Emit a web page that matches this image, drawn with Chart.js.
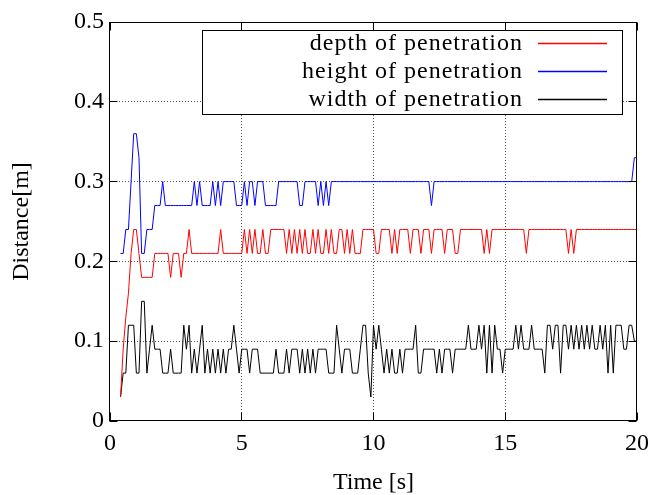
<!DOCTYPE html>
<html>
<head>
<meta charset="utf-8">
<script src="https://cdn.jsdelivr.net/npm/chart.js@4/dist/chart.umd.min.js"></script>
<style>
html,body{margin:0;padding:0;background:#fff;}
canvas{display:block;}
</style>
</head>
<body>
<canvas id="c" width="653" height="495"></canvas>
<script>
// Time samples [s]
const times = [
  0.4,0.5,0.6,0.7,0.8,0.9,
  1.0,1.1,1.2,1.3,1.4,1.5,1.6,1.7,1.8,1.9,
  2.0,2.1,2.2,2.3,2.4,2.5,2.6,2.7,2.8,2.9,
  3.0,3.1,3.2,3.3,3.4,3.5,3.6,3.7,3.8,3.9,
  4.0,4.1,4.2,4.3,4.4,4.5,4.6,4.7,4.8,4.9,
  5.0,5.1,5.2,5.3,5.4,5.5,5.6,5.7,5.8,5.9,
  6.0,6.1,6.2,6.3,6.4,6.5,6.6,6.7,6.8,6.9,
  7.0,7.1,7.2,7.3,7.4,7.5,7.6,7.7,7.8,7.9,
  8.0,8.1,8.2,8.3,8.4,8.5,8.6,8.7,8.8,8.9,
  9.0,9.1,9.2,9.3,9.4,9.5,9.6,9.7,9.8,9.9,
  10.0,10.1,10.2,10.3,10.4,10.5,10.6,10.7,10.8,10.9,
  11.0,11.1,11.2,11.3,11.4,11.5,11.6,11.7,11.8,11.9,
  12.0,12.1,12.2,12.3,12.4,12.5,12.6,12.7,12.8,12.9,
  13.0,13.1,13.2,13.3,13.4,13.5,13.6,13.7,13.8,13.9,
  14.0,14.1,14.2,14.3,14.4,14.5,14.6,14.7,14.8,14.9,
  15.0,15.1,15.2,15.3,15.4,15.5,15.6,15.7,15.8,15.9,
  16.0,16.1,16.2,16.3,16.4,16.5,16.6,16.7,16.8,16.9,
  17.0,17.1,17.2,17.3,17.4,17.5,17.6,17.7,17.8,17.9,
  18.0,18.1,18.2,18.3,18.4,18.5,18.6,18.7,18.8,18.9,
  19.0,19.1,19.2,19.3,19.4,19.5,19.6,19.7,19.8,19.9,
  20.0
];

// depth of penetration [m]
const depth = [
  0.03,0.09,0.13,0.16,0.21,0.24,
  0.24,0.21,0.18,0.18,0.18,0.18,0.18,0.21,0.21,0.21,
  0.21,0.21,0.21,0.18,0.21,0.21,0.21,0.18,0.21,0.21,
  0.24,0.21,0.21,0.21,0.21,0.21,0.21,0.21,0.21,0.21,
  0.21,0.21,0.24,0.21,0.21,0.21,0.21,0.21,0.21,0.21,
  0.21,0.24,0.21,0.24,0.21,0.24,0.21,0.21,0.24,0.21,
  0.21,0.24,0.24,0.24,0.24,0.24,0.24,0.21,0.24,0.21,
  0.24,0.21,0.24,0.21,0.24,0.21,0.21,0.24,0.21,0.24,
  0.21,0.21,0.24,0.21,0.24,0.21,0.21,0.24,0.24,0.21,
  0.24,0.21,0.24,0.21,0.21,0.21,0.24,0.24,0.24,0.24,
  0.24,0.21,0.21,0.24,0.24,0.24,0.24,0.21,0.24,0.21,
  0.24,0.24,0.24,0.24,0.21,0.24,0.24,0.24,0.21,0.24,
  0.24,0.24,0.21,0.24,0.24,0.24,0.24,0.21,0.24,0.24,
  0.24,0.21,0.21,0.24,0.24,0.24,0.24,0.24,0.24,0.24,
  0.24,0.24,0.21,0.24,0.21,0.24,0.24,0.24,0.24,0.24,
  0.24,0.24,0.24,0.24,0.24,0.24,0.24,0.24,0.21,0.24,
  0.24,0.24,0.24,0.24,0.24,0.24,0.24,0.24,0.24,0.24,
  0.24,0.24,0.24,0.24,0.21,0.24,0.21,0.24,0.24,0.24,
  0.24,0.24,0.24,0.24,0.24,0.24,0.24,0.24,0.24,0.24,
  0.24,0.24,0.24,0.24,0.24,0.24,0.24,0.24,0.24,0.24,
  0.24
];

// height of penetration [m]
const height = [
  0.21,0.21,0.24,0.24,0.30,0.36,
  0.36,0.33,0.21,0.21,0.24,0.24,0.24,0.27,0.27,0.27,
  0.30,0.27,0.27,0.27,0.27,0.27,0.27,0.27,0.27,0.27,
  0.27,0.27,0.30,0.27,0.30,0.27,0.27,0.27,0.27,0.30,
  0.27,0.30,0.27,0.30,0.30,0.30,0.30,0.30,0.27,0.27,
  0.27,0.30,0.27,0.30,0.30,0.27,0.30,0.30,0.30,0.27,
  0.27,0.27,0.27,0.27,0.30,0.30,0.30,0.30,0.30,0.30,
  0.30,0.30,0.27,0.27,0.30,0.30,0.30,0.30,0.30,0.27,
  0.30,0.27,0.30,0.27,0.30,0.30,0.30,0.30,0.30,0.30,
  0.30,0.30,0.30,0.30,0.30,0.30,0.30,0.30,0.30,0.30,
  0.30,0.30,0.30,0.30,0.30,0.30,0.30,0.30,0.30,0.30,
  0.30,0.30,0.30,0.30,0.30,0.30,0.30,0.30,0.30,0.30,
  0.30,0.30,0.27,0.30,0.30,0.30,0.30,0.30,0.30,0.30,
  0.30,0.30,0.30,0.30,0.30,0.30,0.30,0.30,0.30,0.30,
  0.30,0.30,0.30,0.30,0.30,0.30,0.30,0.30,0.30,0.30,
  0.30,0.30,0.30,0.30,0.30,0.30,0.30,0.30,0.30,0.30,
  0.30,0.30,0.30,0.30,0.30,0.30,0.30,0.30,0.30,0.30,
  0.30,0.30,0.30,0.30,0.30,0.30,0.30,0.30,0.30,0.30,
  0.30,0.30,0.30,0.30,0.30,0.30,0.30,0.30,0.30,0.30,
  0.30,0.30,0.30,0.30,0.30,0.30,0.30,0.30,0.30,0.33,
  0.33
];

// width of penetration [m]
const width = [
  0.03,0.06,0.06,0.12,0.12,0.12,
  0.06,0.06,0.15,0.15,0.06,0.09,0.12,0.09,0.09,0.09,
  0.06,0.06,0.06,0.09,0.06,0.06,0.06,0.06,0.12,0.09,
  0.12,0.06,0.09,0.06,0.09,0.12,0.06,0.09,0.06,0.09,
  0.06,0.09,0.06,0.09,0.06,0.09,0.09,0.12,0.09,0.06,
  0.09,0.09,0.09,0.06,0.09,0.09,0.09,0.06,0.06,0.06,
  0.06,0.06,0.06,0.09,0.06,0.06,0.06,0.09,0.06,0.09,
  0.09,0.09,0.06,0.09,0.06,0.09,0.06,0.09,0.06,0.09,
  0.09,0.09,0.09,0.06,0.06,0.06,0.12,0.09,0.06,0.09,
  0.09,0.09,0.06,0.06,0.06,0.09,0.12,0.12,0.06,0.03,
  0.12,0.09,0.12,0.09,0.06,0.09,0.06,0.09,0.06,0.06,
  0.09,0.06,0.09,0.09,0.09,0.09,0.12,0.06,0.06,0.09,
  0.09,0.09,0.09,0.09,0.06,0.09,0.06,0.09,0.09,0.09,
  0.06,0.09,0.09,0.09,0.09,0.09,0.12,0.09,0.09,0.09,
  0.12,0.09,0.12,0.06,0.12,0.06,0.12,0.09,0.09,0.06,
  0.09,0.09,0.09,0.09,0.12,0.09,0.12,0.09,0.09,0.09,
  0.12,0.09,0.09,0.09,0.09,0.06,0.12,0.12,0.09,0.12,
  0.12,0.06,0.12,0.12,0.09,0.12,0.09,0.12,0.09,0.12,
  0.09,0.12,0.09,0.12,0.09,0.09,0.12,0.09,0.12,0.06,
  0.12,0.06,0.12,0.12,0.12,0.09,0.09,0.12,0.12,0.10,
  0.10
];

const seriesLabels = ['depth of penetration', 'height of penetration', 'width of penetration'];
const seriesColors = ['#ff0000', '#0000ff', '#000000'];
const xTicks = [0, 5, 10, 15, 20];
const yTicks = [0, 0.1, 0.2, 0.3, 0.4, 0.5];

const FONT = '"Liberation Serif", "Times New Roman", serif';
const CLEAR = 'rgba(0,0,0,0)';

function pts(vals) { return vals.map((v, i) => ({ x: times[i], y: v })); }

const gnuplotFrame = {
  id: 'gnuplotFrame',
  beforeDatasetsDraw(chart) {
    const { ctx, chartArea: a, scales: { x, y } } = chart;
    ctx.save();
    ctx.strokeStyle = '#555';
    ctx.lineWidth = 1;
    ctx.setLineDash([1, 2]);
    x.ticks.forEach(t => {
      if (t.value <= x.min || t.value >= x.max) return;
      const px = Math.floor(x.getPixelForValue(t.value)) + 0.5;
      ctx.beginPath(); ctx.moveTo(px, a.top); ctx.lineTo(px, a.bottom); ctx.stroke();
    });
    y.ticks.forEach(t => {
      if (t.value <= y.min + 1e-9 || t.value >= y.max - 1e-9) return;
      const py = Math.floor(y.getPixelForValue(t.value)) + 0.5;
      ctx.beginPath(); ctx.moveTo(a.left, py); ctx.lineTo(a.right, py); ctx.stroke();
    });
    ctx.restore();
  },
  afterDatasetsDraw(chart) {
    const { ctx, chartArea: a, scales: { x, y } } = chart;
    ctx.save();
    ctx.setLineDash([]);
    ctx.lineWidth = 1;
    // legend box
    const bx0 = Math.floor(a.left) + 92, bx1 = Math.round(a.right) - 15;
    const by0 = Math.floor(a.top) + 8, by1 = Math.floor(a.top) + 92;
    ctx.fillStyle = '#ffffff';
    ctx.fillRect(bx0, by0, bx1 - bx0, by1 - by0);
    ctx.fillStyle = '#000000';
    ctx.fillRect(bx0, by0, bx1 - bx0, 1);
    ctx.fillRect(bx0, by1, bx1 - bx0 + 1, 1);
    ctx.fillRect(bx0, by0, 1, by1 - by0);
    ctx.fillRect(bx1, by0, 1, by1 - by0);
    ctx.font = '24px ' + FONT;
    ctx.textAlign = 'right';
    ctx.textBaseline = 'alphabetic';
    seriesLabels.forEach((lab, i) => {
      const ly = Math.floor(a.top) + 21 + i * 28;
      ctx.save();
      try { ctx.letterSpacing = '1px'; } catch (e) {}
      ctx.fillStyle = '#000000';
      ctx.fillText(lab, bx1 - 99, ly + 7);
      ctx.restore();
      ctx.save();
      ctx.strokeStyle = seriesColors[i];
      ctx.lineWidth = 1.6;
      ctx.beginPath();
      ctx.moveTo(bx1 - 84, ly + 0.5);
      ctx.lineTo(bx1 - 15, ly + 0.5);
      ctx.stroke();
      ctx.restore();
    });
    // frame
    ctx.strokeStyle = '#000000';
    ctx.lineWidth = 1;
    const L = Math.floor(a.left) - 0.5, R = Math.round(a.right) - 0.5;
    const T = Math.floor(a.top) + 0.5, B = Math.round(a.bottom) - 0.5;
    ctx.strokeRect(L, T, R - L, B - T);
    // inward ticks
    const tl = 8;
    x.ticks.forEach(t => {
      const px = Math.floor(x.getPixelForValue(t.value)) + 0.5;
      ctx.beginPath();
      ctx.moveTo(px, B); ctx.lineTo(px, B - tl);
      ctx.moveTo(px, T); ctx.lineTo(px, T + tl);
      ctx.stroke();
    });
    y.ticks.forEach(t => {
      const py = Math.floor(y.getPixelForValue(t.value)) + 0.5;
      ctx.beginPath();
      ctx.moveTo(L, py); ctx.lineTo(L + tl, py);
      ctx.moveTo(R, py); ctx.lineTo(R - tl, py);
      ctx.stroke();
    });
    // axis titles
    ctx.fillStyle = '#000000';
    ctx.font = '24px ' + FONT;
    ctx.textAlign = 'center';
    ctx.textBaseline = 'middle';
    ctx.fillText('Time [s]', (a.left + a.right) / 2, 483);
    ctx.save();
    ctx.translate(22, (a.top + a.bottom) / 2);
    ctx.rotate(-Math.PI / 2);
    ctx.fillText('Distance[m]', 0, 0);
    ctx.restore();
    ctx.restore();
  }
};

new Chart(document.getElementById('c'), {
  type: 'line',
  data: {
    datasets: seriesLabels.map((lab, i) => ({
      label: lab,
      data: pts([depth, height, width][i]),
      borderColor: seriesColors[i],
      borderWidth: 1,
      pointRadius: 0,
      tension: 0,
      fill: false
    }))
  },
  options: {
    responsive: false,
    animation: false,
    devicePixelRatio: 1,
    layout: { padding: { top: 22, right: 16, left: 0, bottom: 0 } },
    plugins: { legend: { display: false }, tooltip: { enabled: false } },
    scales: {
      x: {
        type: 'linear',
        min: 0, max: 20,
        afterBuildTicks: s => { s.ticks = xTicks.map(v => ({ value: v })); },
        afterFit: s => { s.height = 74; },
        grid: { display: true, drawOnChartArea: false, drawTicks: true, tickLength: 8, color: CLEAR, tickColor: CLEAR },
        border: { display: false },
        ticks: {
          padding: 0,
          color: '#000',
          font: { family: FONT, size: 24 },
          maxRotation: 0,
          callback: v => String(v)
        }
      },
      y: {
        type: 'linear',
        min: 0, max: 0.5,
        afterBuildTicks: s => { s.ticks = yTicks.map(v => ({ value: v })); },
        afterFit: s => { s.width = 110; },
        grid: { display: false, drawTicks: false },
        border: { display: false },
        ticks: {
          padding: 6,
          color: '#000',
          font: { family: FONT, size: 24 },
          callback: v => String(Math.round(v * 10) / 10)
        }
      }
    }
  },
  plugins: [gnuplotFrame]
});
</script>
</body>
</html>
